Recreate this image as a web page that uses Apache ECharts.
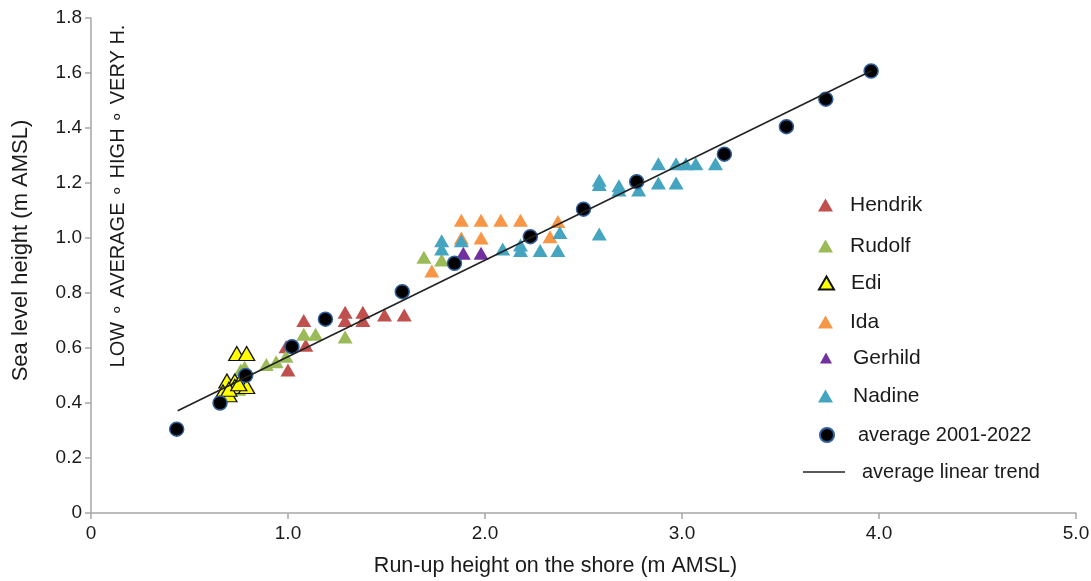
<!DOCTYPE html>
<html>
<head>
<meta charset="utf-8">
<script src="https://cdn.jsdelivr.net/npm/echarts@6/dist/echarts.min.js"></script>
<style>html,body{margin:0;padding:0;background:#fff}#c{width:1091px;height:581px}</style>
</head>
<body>
<div id="c"></div>
<script>
// ---- data ----
const xTickValues = [0, 1, 2, 3, 4, 5];
const yTickValues = [0, 0.2, 0.4, 0.6, 0.8, 1.0, 1.2, 1.4, 1.6, 1.8];
const seriesNames = ['Hendrik', 'Rudolf', 'Edi', 'Ida', 'Gerhild', 'Nadine', 'average 2001-2022', 'average linear trend'];

const hendrik = [[0.99,0.605],[1.00,0.52],[1.08,0.70],[1.09,0.61],[1.29,0.73],[1.29,0.70],[1.38,0.73],[1.38,0.70],[1.49,0.72],[1.59,0.72]];
const rudolf  = [[0.75,0.45],[0.76,0.52],[0.78,0.53],[0.89,0.54],[0.94,0.55],[0.99,0.57],[1.08,0.65],[1.14,0.65],[1.29,0.64],[1.69,0.93],[1.78,0.92]];
const edi     = [[0.74,0.58],[0.79,0.58],[0.69,0.48],[0.73,0.48],[0.73,0.46],[0.79,0.46],[0.67,0.44],[0.70,0.43],[0.70,0.45],[0.75,0.47]];
const ida     = [[1.73,0.88],[1.88,1.065],[1.98,1.065],[2.08,1.065],[2.18,1.065],[1.88,1.0],[1.98,1.0],[2.33,1.005],[2.37,1.06]];
const gerhild = [[1.89,0.945],[1.98,0.945]];
const nadine  = [[1.78,0.99],[1.78,0.96],[1.88,0.99],[2.09,0.96],[2.18,0.975],[2.18,0.955],[2.28,0.955],[2.37,0.955],[2.38,1.02],
                 [2.58,1.21],[2.58,1.195],[2.58,1.015],[2.68,1.19],[2.68,1.175],[2.78,1.175],[2.88,1.27],[2.88,1.20],
                 [2.97,1.27],[2.97,1.20],[3.02,1.27],[3.07,1.27],[3.17,1.27]];
const averageX = [0.435,0.655,0.785,1.02,1.19,1.58,1.845,2.23,2.50,2.77,3.215,3.53,3.73,3.96];
const averageY = [0.305,0.40,0.50,0.605,0.705,0.805,0.908,1.005,1.105,1.205,1.305,1.405,1.505,1.607];
const trendX = [0.44, 3.96];
const trendY = [0.372, 1.607];

const xTitle = 'Run-up height on the shore (m AMSL)';
const yTitle = 'Sea level height (m AMSL)';
const sideNote = 'LOW \u2218 AVERAGE \u2218 HIGH \u2218 VERY H.';

// ---- styling ----
const FONT = 'Liberation Sans, Arial, sans-serif';
const colors = {Hendrik:'#C0504D', Rudolf:'#9BBB59', Edi:'#FFFF00', Ida:'#F79646', Gerhild:'#7030A0', Nadine:'#45A5C0'};
const axisGray = '#a6a6a6';
const fmt = v => (Math.abs(v) < 1e-9 ? '0' : v.toFixed(1));

function triSeries(name, data, extra) {
  return Object.assign({
    name, type: 'scatter', data,
    symbol: 'triangle', symbolSize: [15, 13],
    itemStyle: {color: colors[name], opacity: 1},
    emphasis: {disabled: true}
  }, extra || {});
}

const series = [
  triSeries('Hendrik', hendrik),
  triSeries('Rudolf', rudolf),
  triSeries('Edi', edi, {symbolSize: [16, 14], itemStyle: {color: colors.Edi, borderColor: '#111', borderWidth: 1.3, opacity: 1}}),
  triSeries('Ida', ida),
  triSeries('Gerhild', gerhild),
  triSeries('Nadine', nadine),
  {
    name: seriesNames[6], type: 'scatter',
    data: averageX.map((x, i) => [x, averageY[i]]),
    symbol: 'circle', symbolSize: 14,
    itemStyle: {color: '#000', borderColor: '#2f5f9e', borderWidth: 1.5, opacity: 1},
    emphasis: {disabled: true}, z: 3
  },
  {
    name: seriesNames[7], type: 'line',
    data: trendX.map((x, i) => [x, trendY[i]]),
    symbol: 'none', showSymbol: false,
    lineStyle: {color: '#222', width: 1.6},
    itemStyle: {color: '#222'},
    emphasis: {disabled: true}, z: 4, silent: true
  }
];

// one legend component per entry so each row sits where the reference has it
const legendRows = [
  {name: 'Hendrik', top: 194, w: 15, h: 13},
  {name: 'Rudolf', top: 235, w: 15, h: 13},
  {name: 'Edi', top: 272, w: 15, h: 13},
  {name: 'Ida', top: 311, w: 15, h: 13},
  {name: 'Gerhild', top: 347, w: 12, h: 11, left: 820, pad: 16},
  {name: 'Nadine', top: 385, w: 15, h: 13, pad: 15},
  {name: 'average 2001-2022', top: 424, w: 14, h: 14, left: 819, pad: 19, fs: 20},
  {name: 'average linear trend', top: 461, w: 42, h: 1.6, left: 803, pad: 12, fs: 20, icon: 'rect'}
];
const legends = legendRows.map(r => ({
  data: [r.icon ? {name: r.name, icon: r.icon} : r.name],
  left: r.left != null ? r.left : 818,
  top: r.top,
  padding: 0,
  itemWidth: r.w,
  itemHeight: r.h,
  selectedMode: false,
  textStyle: {fontFamily: FONT, fontSize: r.fs || 21, color: '#1a1a1a', lineHeight: 22,
              padding: [0, 0, 0, r.pad != null ? r.pad : 12]}
}));

const chart = echarts.init(document.getElementById('c'), null, {renderer: 'canvas'});
chart.setOption({
  animation: false,
  backgroundColor: '#fff',
  grid: {left: 91, right: 15, top: 18, bottom: 68, containLabel: false, outerBoundsMode: 'none'},
  xAxis: {
    type: 'value', min: xTickValues[0], max: xTickValues[xTickValues.length - 1], interval: 1,
    name: xTitle, nameLocation: 'middle', nameGap: 42,
    nameTextStyle: {fontFamily: FONT, fontSize: 21.5, color: '#1a1a1a', padding: [0, 56, 0, 0]},
    axisLine: {show: true, lineStyle: {color: axisGray, width: 1.5}},
    axisTick: {show: true, inside: false, length: 6, lineStyle: {color: axisGray, width: 1.5}},
    axisLabel: {margin: 11, fontFamily: FONT, fontSize: 19, color: '#1a1a1a', formatter: fmt},
    splitLine: {show: false}
  },
  yAxis: {
    type: 'value', min: yTickValues[0], max: yTickValues[yTickValues.length - 1], interval: 0.2,
    name: yTitle, nameLocation: 'middle', nameGap: 59,
    nameTextStyle: {fontFamily: FONT, fontSize: 22, color: '#1a1a1a', padding: [0, 0, 0, 30]},
    axisLine: {show: true, lineStyle: {color: axisGray, width: 1.5}},
    axisTick: {show: true, inside: false, length: 6, lineStyle: {color: axisGray, width: 1.5}},
    axisLabel: {margin: 9, fontFamily: FONT, fontSize: 19, color: '#1a1a1a', formatter: fmt},
    splitLine: {show: false}
  },
  legend: legends,
  graphic: [{
    type: 'text', x: 118, y: 196, rotation: Math.PI / 2, silent: true,
    style: {text: sideNote, align: 'center', verticalAlign: 'middle', fontFamily: FONT, fontSize: 20, fill: '#1a1a1a'}
  }],
  series
});
</script>
</body>
</html>
